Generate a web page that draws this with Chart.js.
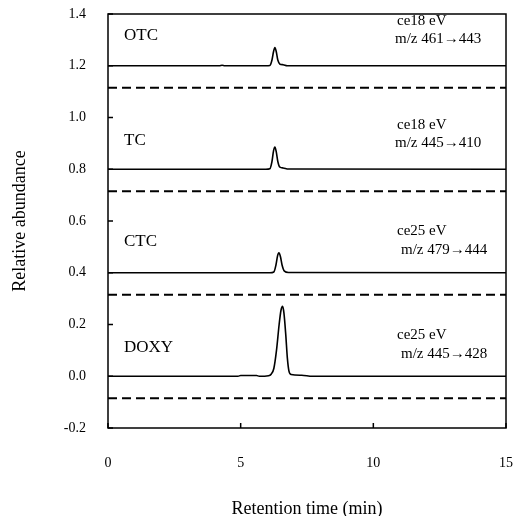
<!DOCTYPE html>
<html lang="en">
<head>
  <meta charset="UTF-8" />
  <title>Tetracyclines – MRM chromatograms</title>
  <script src="https://cdn.jsdelivr.net/npm/chart.js"></script>
  <style>
    body {
      margin: 0;
      background: #fff;
    }
    canvas {
      display: block;
    }
  </style>
</head>
<body>

  <canvas id="chrom" width="513" height="516"></canvas>

  <script>
    // ---- data ----
    const compounds = ['OTC', 'TC', 'CTC', 'DOXY'];
    const energies = ['ce18 eV', 'ce18 eV', 'ce25 eV', 'ce25 eV'];
    const transitions = ['m/z 461\u2192443', 'm/z 445\u2192410', 'm/z 479\u2192444', 'm/z 445\u2192428'];
    const baselines = [1.2, 0.8, 0.4, 0.0];
    const blankLevels = [1.115, 0.715, 0.315, -0.085];
    const blankTime = [0, 15];

    const otcTime   = [0, 4.2, 4.3, 4.4, 5.95, 6.1, 6.18, 6.24, 6.29, 6.34, 6.4, 6.48, 6.6, 6.75, 15];
    const otcSignal = [1.2, 1.2, 1.202, 1.2, 1.2, 1.201, 1.222, 1.255, 1.27, 1.255, 1.222, 1.206, 1.204, 1.2, 1.2];

    const tcTime   = [0, 5.95, 6.1, 6.18, 6.24, 6.29, 6.34, 6.4, 6.48, 6.6, 6.8, 15];
    const tcSignal = [0.8, 0.8, 0.802, 0.83, 0.872, 0.886, 0.868, 0.83, 0.808, 0.805, 0.801, 0.8];

    const ctcTime   = [0, 6.1, 6.25, 6.33, 6.39, 6.44, 6.5, 6.56, 6.65, 6.8, 15];
    const ctcSignal = [0.4, 0.4, 0.403, 0.43, 0.465, 0.477, 0.462, 0.43, 0.406, 0.401, 0.4];

    const doxyTime   = [0, 4.9, 5.0, 5.6, 5.7, 6.05, 6.15, 6.25, 6.35, 6.45, 6.52, 6.58, 6.63, 6.7, 6.76, 6.82, 6.9, 7.3, 7.7, 15];
    const doxySignal = [0, 0, 0.003, 0.003, 0, 0.002, 0.008, 0.03, 0.1, 0.2, 0.255, 0.27, 0.245, 0.16, 0.07, 0.02, 0.007, 0.004, 0, 0];

    const yTicks = [-0.2, 0.0, 0.2, 0.4, 0.6, 0.8, 1.0, 1.2, 1.4];
    const xTicks = [0, 5, 10, 15];

    // ---- text placement (pixels from left edge / above each baseline) ----
    const nameX = [16, 16, 16, 16];
    const nameRise = [30, 29, 31, 29];
    const energyX = [289, 289, 289, 289];
    const energyRise = [45, 44, 42, 41];
    const transX = [287, 287, 293, 293];
    const transRise = [27, 26, 23, 22];

    const serif = '"Liberation Serif", "Times New Roman", serif';

    function toPoints(xs, ys) {
      return xs.map((t, i) => ({ x: t, y: ys[i] }));
    }

    const traces = [
      [otcTime, otcSignal],
      [tcTime, tcSignal],
      [ctcTime, ctcSignal],
      [doxyTime, doxySignal]
    ];

    const datasets = [];
    traces.forEach(([xs, ys], i) => {
      datasets.push({
        label: compounds[i],
        data: toPoints(xs, ys),
        borderColor: '#000',
        borderWidth: 1.6,
        cubicInterpolationMode: 'monotone',
        pointRadius: 0
      });
      datasets.push({
        label: compounds[i] + ' blank',
        data: toPoints(blankTime, blankTime.map(() => blankLevels[i])),
        borderColor: '#000',
        borderWidth: 1.8,
        borderDash: [9, 5],
        pointRadius: 0
      });
    });

    // frame, inward ticks and the per-trace labels
    const framePlugin = {
      id: 'frame',
      afterDatasetsDraw(chart) {
        const { ctx, chartArea: a, scales: { x, y } } = chart;
        ctx.save();
        ctx.strokeStyle = '#000';
        ctx.lineWidth = 1.5;
        ctx.strokeRect(a.left, a.top, a.right - a.left, a.bottom - a.top);

        ctx.beginPath();
        y.ticks.forEach(t => {
          const py = y.getPixelForValue(t.value);
          ctx.moveTo(a.left, py);
          ctx.lineTo(a.left + 5, py);
        });
        x.ticks.forEach(t => {
          const px = x.getPixelForValue(t.value);
          ctx.moveTo(px, a.bottom);
          ctx.lineTo(px, a.bottom - 5);
        });
        ctx.stroke();

        ctx.fillStyle = '#000';
        ctx.textAlign = 'left';
        ctx.textBaseline = 'middle';
        compounds.forEach((name, i) => {
          const base = y.getPixelForValue(baselines[i]);
          ctx.font = '17px ' + serif;
          ctx.fillText(name, a.left + nameX[i], base - nameRise[i]);
          ctx.font = '15px ' + serif;
          ctx.fillText(energies[i], a.left + energyX[i], base - energyRise[i]);
          ctx.fillText(transitions[i], a.left + transX[i], base - transRise[i]);
        });
        ctx.restore();
      }
    };

    function noPad(s) {
      s.paddingLeft = 0;
      s.paddingRight = 0;
      s.paddingTop = 0;
      s.paddingBottom = 0;
    }

    new Chart(document.getElementById('chrom'), {
      type: 'line',
      data: { datasets: datasets },
      options: {
        responsive: false,
        animation: false,
        layout: {
          padding: { top: 14, right: 7, left: 0, bottom: 0 }
        },
        plugins: {
          legend: { display: false },
          tooltip: { enabled: false }
        },
        scales: {
          x: {
            type: 'linear',
            min: 0,
            max: 15,
            afterFit: s => { s.height = 88; noPad(s); },
            afterBuildTicks: s => { s.ticks = xTicks.map(v => ({ value: v })); },
            grid: { display: false, drawTicks: false },
            border: { display: false },
            ticks: {
              padding: 27,
              color: '#000',
              font: { family: serif, size: 14 }
            },
            title: {
              display: true,
              text: 'Retention time (min)',
              color: '#000',
              font: { family: serif, size: 18, lineHeight: 1 },
              padding: { top: 0, bottom: -2 }
            }
          },
          y: {
            type: 'linear',
            min: -0.2,
            max: 1.4,
            afterFit: s => { s.width = 108; noPad(s); },
            afterBuildTicks: s => { s.ticks = yTicks.map(v => ({ value: v })); },
            grid: { display: false, drawTicks: false },
            border: { display: false },
            ticks: {
              padding: 22,
              color: '#000',
              font: { family: serif, size: 14 },
              callback: v => v.toFixed(1)
            },
            title: {
              display: true,
              text: 'Relative abundance',
              color: '#000',
              font: { family: serif, size: 18, lineHeight: 1 },
              padding: { top: 11, bottom: 0 }
            }
          }
        }
      },
      plugins: [framePlugin]
    });
  </script>

</body>
</html>
